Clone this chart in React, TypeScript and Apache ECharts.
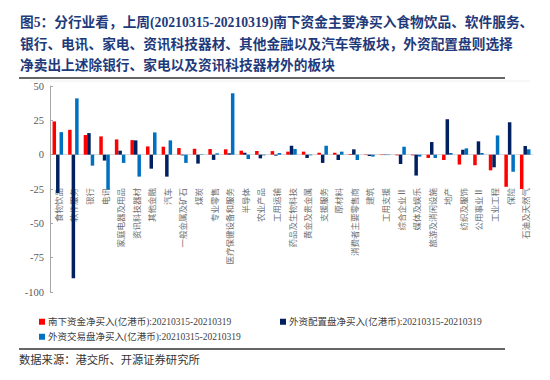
import React, { useEffect, useRef } from "react";
import * as echarts from "echarts";

const categories = [
  "食物饮品", "软件服务", "银行", "电讯", "家庭电器及用品", "资讯科技器材", "其他金融", "汽车",
  "一般金属及矿石", "煤炭", "专业零售", "医疗保健设备和服务", "半导体", "农业产品", "工用运输",
  "药品及生物科技", "黄金及贵金属", "支援服务", "原材料", "消费者主要零售商", "建筑", "工用支援",
  "综合企业Ⅱ", "媒体及娱乐", "旅游及消闲设施", "地产", "纺织及服饰", "公用事业Ⅱ", "工业工程",
  "保险", "石油及天然气",
];

const southbound = [
  24.2, 18.1, 14.3, 13.3, 11.1, 10.6, 6.0, 5.8, 4.8, 4.3, 4.1, 3.9, 2.9, 2.7, 2.6, 2.2, 2.2, 1.4,
  1.4, 0.5, -0.3, -0.3, -0.5, -0.5, -2.4, -3.9, -7.2, -7.7, -11.4, -23.4, -25.0,
];

const foreignAllocation = [
  -28, -90, 15.7, -4.3, 2.9, 10.4, -10.2, -16, -0.5, -6.5, -3.8, 1, 1.4, -2.7, -0.7, 6.5, -2.4,
  -6, -3.9, 3.9, -1, -0.3, -6.8, -15.2, 9.2, 25.8, 3.6, 9.7, -9.2, 23.6, 6.3,
];

const foreignTrading = [
  16.4, 41, -8, -25.5, -6, -16, 16.2, 10.4, -6, 0.3, 1, 44.7, -3.2, -0.5, 1.2, 4.1, -0.5, 6.5,
  2.2, -3.9, -1.4, -0.3, 5.8, -1.4, -2.4, 1.2, 4.6, 1.2, 14, -12.4, 3.9,
];

const seriesNames = [
  "南下资金净买入(亿港币):20210315-20210319",
  "外资配置盘净买入(亿港币):20210315-20210319",
  "外资交易盘净买入(亿港币):20210315-20210319",
];

const yMin = -100;
const yMax = 50;
const yInterval = 25;

const titleLines = [
  "图5：分行业看，上周(20210315-20210319)南下资金主要净买入食物饮品、软件服务、",
  "银行、电讯、家电、资讯科技器材、其他金融以及汽车等板块，外资配置盘则选择",
  "净卖出上述除银行、家电以及资讯科技器材外的板块",
];

const sourceText = "数据来源：港交所、开源证券研究所";

const SERIF = "'Liberation Serif', 'Noto Sans CJK SC', serif";
const colors = ["#FF0000", "#002060", "#0070C0"];

const GRID_TOP = 86;
const GRID_BOTTOM = 88;
const CHART_H = 380;
const LABEL_AXIS_Y = 180; // category labels hang just under the -25 level

export default function App() {
  const ref = useRef<HTMLDivElement>(null);

  useEffect(() => {
    if (!ref.current) return;
    const chart = echarts.init(ref.current, null, { renderer: "svg" });

    const legendBase = {
      icon: "rect",
      itemWidth: 6,
      itemHeight: 6,
      itemGap: 4,
      padding: 0,
      textStyle: { fontSize: 9.5, color: "#404040", fontFamily: SERIF, padding: [0, 0, 0, -2] },
    };

    chart.setOption({
      animation: false,
      backgroundColor: "#ffffff",
      grid: [
        {
          left: 50,
          right: 17,
          top: GRID_TOP,
          bottom: GRID_BOTTOM,
          containLabel: false,
          outerBoundsMode: "none",
        },
        {
          left: 50,
          right: 17,
          top: GRID_TOP,
          bottom: CHART_H - LABEL_AXIS_Y,
          containLabel: false,
          outerBoundsMode: "none",
        },
      ],
      legend: [
        { ...legendBase, data: [seriesNames[0]], left: 39, top: 317 },
        { ...legendBase, data: [seriesNames[1]], left: 280, top: 317 },
        { ...legendBase, data: [seriesNames[2]], left: 39, top: 332 },
      ],
      xAxis: [
        {
          type: "category",
          gridIndex: 0,
          data: categories,
          axisLine: { onZero: true, lineStyle: { color: "#d9d9d9", width: 1 } },
          axisTick: { show: false },
          axisLabel: { show: false },
          splitLine: { show: false },
        },
        {
          type: "category",
          gridIndex: 1,
          data: categories,
          position: "bottom",
          axisLine: { show: false, onZero: false },
          axisTick: { show: false },
          axisLabel: {
            interval: 0,
            rotate: 90,
            margin: 8,
            fontSize: 8.5,
            color: "#707070",
            fontFamily: "'Noto Sans CJK SC', sans-serif",
          },
          splitLine: { show: false },
        },
      ],
      yAxis: [
        {
          type: "value",
          gridIndex: 0,
          min: yMin,
          max: yMax,
          interval: yInterval,
          axisLine: { show: true, lineStyle: { color: "#a6a6a6" } },
          axisTick: { show: true, inside: true, length: 3, lineStyle: { color: "#a6a6a6" } },
          axisLabel: { fontSize: 10.5, color: "#595959", fontFamily: SERIF, margin: 6 },
          splitLine: { show: false },
        },
        {
          type: "value",
          gridIndex: 1,
          min: 0,
          max: 1,
          show: false,
          splitLine: { show: false },
        },
      ],
      series: [southbound, foreignAllocation, foreignTrading].map((d, i) => ({
        name: seriesNames[i],
        type: "bar",
        xAxisIndex: 0,
        yAxisIndex: 0,
        data: d,
        barWidth: 3.5,
        barGap: "0%",
        itemStyle: { color: colors[i] },
      })),
      graphic: [
        ...titleLines.map((t, i) => ({
          type: "text",
          left: 20,
          top: 16 + i * 21.5,
          style: {
            text: t,
            fill: "#1F3A7A",
            font: `bold 13.7px ${SERIF}`,
          },
        })),
        {
          type: "line",
          shape: { x1: 19, y1: 78, x2: 505, y2: 78 },
          style: { stroke: "#333333", lineWidth: 1.5 },
        },
        {
          type: "line",
          shape: { x1: 30, y1: 81, x2: 530, y2: 81 },
          style: { stroke: "#f0f0f0", lineWidth: 1 },
        },
        {
          type: "line",
          shape: { x1: 19, y1: 349, x2: 505, y2: 349 },
          style: { stroke: "#333333", lineWidth: 1.5 },
        },
        {
          type: "text",
          left: 19,
          top: 354,
          style: {
            text: sourceText,
            fill: "#333333",
            font: `11.3px ${SERIF}`,
          },
        },
      ],
    });

    return () => chart.dispose();
  }, []);

  return (
    <div
      ref={ref}
      style={{ position: "absolute", left: 0, top: 0, width: 550, height: 380 }}
    />
  );
}
